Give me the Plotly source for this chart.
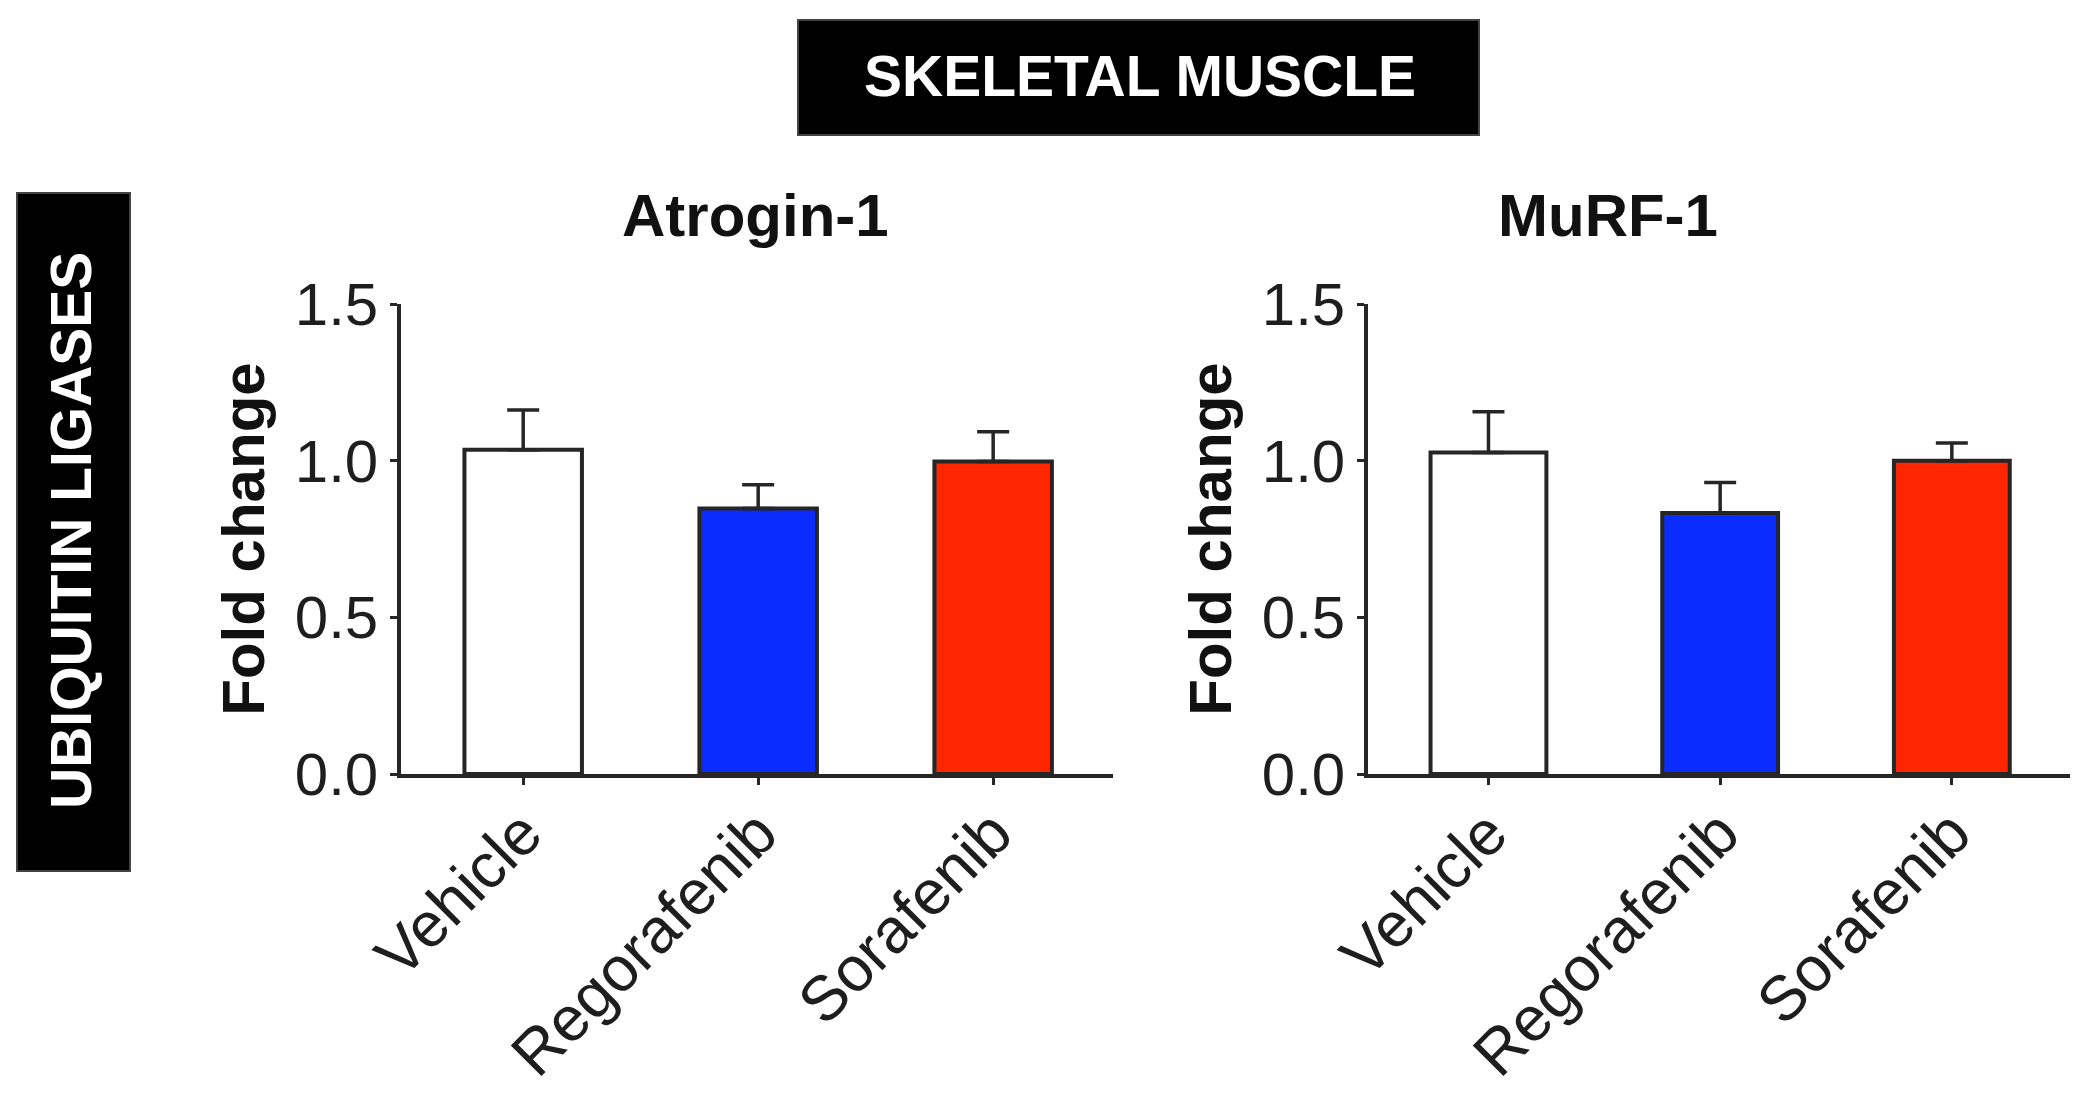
import plotly.graph_objects as go
from plotly.subplots import make_subplots

# groups and measured fold changes (mean + upper SEM)
groups = ['Vehicle', 'Regorafenib', 'Sorafenib']
panels = ['Atrogin-1', 'MuRF-1']
atrogin_mean = [1.035, 0.847, 0.997]
atrogin_sem = [0.127, 0.076, 0.095]
murf_mean = [1.026, 0.833, 1.000]
murf_sem = [0.130, 0.097, 0.056]
bar_colors = ['#ffffff', '#0a2cff', '#ff2600']
y_ticks = [0, 0.5, 1.0, 1.5]
y_ticktext = ['0.0', '0.5', '1.0', '1.5']

FONT = 'Liberation Sans, Arial, sans-serif'
INK = '#262626'

# page has an 8px body margin, so the figure is a bit smaller than the window
W, H, OFF = 2090, 1101, 8
TEXT_FIX = 37   # annotation text sits low in this renderer, lift it back


def px(x):
    return (x - OFF) / W


def py(y):
    return 1 - (y - OFF) / H


fig = make_subplots(rows=1, cols=2)

for col, (means, sems) in enumerate([(atrogin_mean, atrogin_sem),
                                     (murf_mean, murf_sem)], start=1):
    fig.add_trace(go.Bar(
        x=groups, y=means, width=0.5,
        marker=dict(color=bar_colors, line=dict(color=INK, width=4)),
        error_y=dict(type='data', array=sems, arrayminus=[0] * len(sems),
                     symmetric=False, color=INK, thickness=3.5, width=16),
        showlegend=False), row=1, col=col)

axis_common = dict(showline=True, linecolor=INK, linewidth=3.5,
                   ticks='outside', ticklen=7, tickwidth=3, tickcolor=INK,
                   showgrid=False, zeroline=False, automargin=False)

fig.update_xaxes(range=[-0.52, 2.51], tickangle=-45, ticklabelstandoff=-14,
                 tickfont=dict(family=FONT, size=63, color='#1e1e1e'),
                 **axis_common)
fig.update_yaxes(range=[0, 1.5], tickvals=y_ticks, ticktext=y_ticktext,
                 tickfont=dict(family=FONT, size=60, color='#1e1e1e'),
                 title=dict(text='<b>Fold change</b>', standoff=12,
                            font=dict(family=FONT, size=60, color='#111111')),
                 **axis_common)

fig.update_layout(
    template='none',
    xaxis=dict(domain=[px(401), px(1113)], anchor='y'),
    xaxis2=dict(domain=[px(1368), px(2070)], anchor='y2'),
    yaxis=dict(domain=[py(774), py(304)], anchor='x'),
    yaxis2=dict(domain=[py(774), py(304)], anchor='x2'),
    width=W, height=H,
    margin=dict(l=0, r=0, t=0, b=0, pad=0),
    paper_bgcolor='white', plot_bgcolor='white',
)

# black header boxes
fig.add_shape(type='rect', xref='paper', yref='paper',
              x0=px(798), x1=px(1479), y0=py(135), y1=py(20),
              fillcolor='black', line=dict(color='#444444', width=2))
fig.add_shape(type='rect', xref='paper', yref='paper',
              x0=px(17), x1=px(130), y0=py(871), y1=py(193),
              fillcolor='black', line=dict(color='#444444', width=2))

fig.add_annotation(text='<b>SKELETAL MUSCLE</b>', xref='paper', yref='paper',
                   x=px(1140), y=py(79), yshift=TEXT_FIX, showarrow=False,
                   font=dict(family=FONT, size=57, color='white'))
fig.add_annotation(text='<b>UBIQUITIN LIGASES</b>', xref='paper', yref='paper',
                   x=px(74), y=py(531), xshift=-TEXT_FIX, showarrow=False,
                   textangle=-90,
                   font=dict(family=FONT, size=57, color='white'))

# panel titles
for name, xc in zip(panels, [755, 1720]):
    fig.add_annotation(text=f'<b>{name}</b>', xref='paper', yref='paper',
                       x=px(xc), y=py(217), yshift=TEXT_FIX, showarrow=False,
                       font=dict(family=FONT, size=60, color='#111111'))

fig.write_html("out.html")
